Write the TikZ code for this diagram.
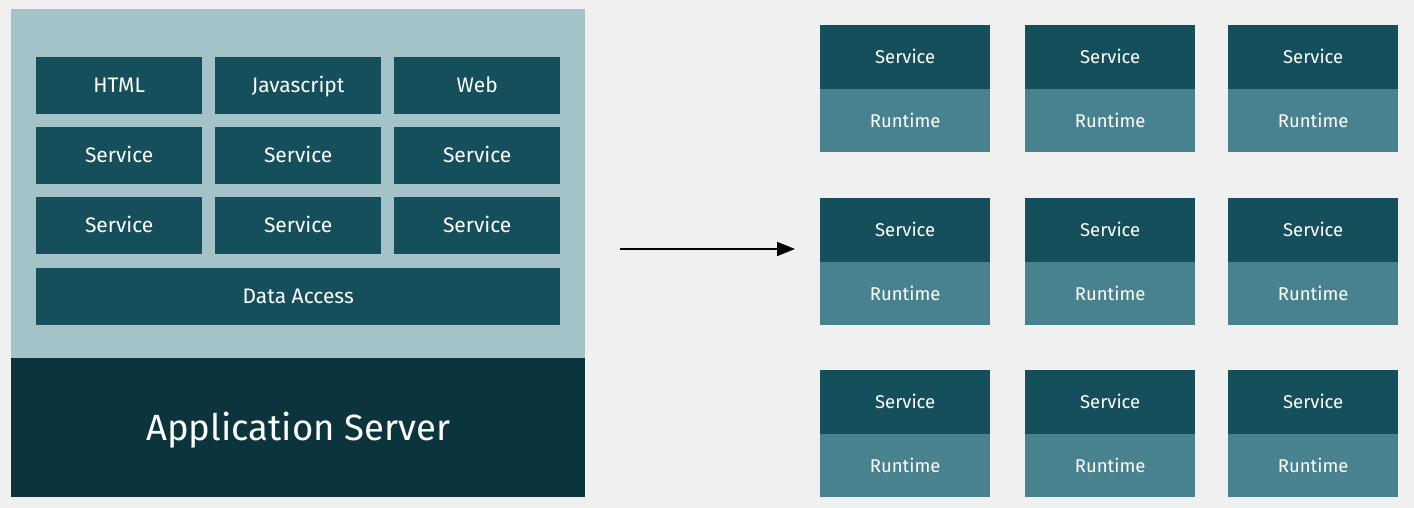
\documentclass[tikz,border=0pt]{standalone}
\usepackage{fontspec}
\setmainfont{Fira Sans}
\usetikzlibrary{arrows.meta}
\definecolor{pagebg}{HTML}{F0F0F0}
\definecolor{panel}{HTML}{A3C3C8}
\definecolor{tile}{HTML}{154F5C}
\definecolor{runtime}{HTML}{47828E}
\definecolor{server}{HTML}{0C343D}
\begin{document}
\begin{tikzpicture}[x=1pt,y=-1pt,
  box/.style={fill=tile,draw=none,inner sep=0pt,anchor=north west,text=white,
    font=\fontsize{21}{24}\selectfont,minimum height=57pt,
    text height=14.5pt,text depth=0pt},
  cell/.style={box,minimum width=166pt},
  svc/.style={box,minimum width=170pt,minimum height=64pt,
    font=\fontsize{18.5}{22}\selectfont,text height=12.8pt},
  rt/.style={svc,fill=runtime,minimum height=63pt},
  link/.style={line width=1.8pt,-{Triangle[length=18pt,width=14pt]}}]
% page
\fill[pagebg] (0,0) rectangle (1414,508);
\useasboundingbox (0,0) rectangle (1414,508);
% monolith
\node[fill=panel,inner sep=0pt,anchor=north west,minimum width=574pt,minimum height=349pt] (panel) at (11,9) {};
\node[fill=server,inner sep=0pt,anchor=north west,minimum width=574pt,minimum height=139pt,
  text=white,font=\fontsize{36.5}{40}\selectfont,text height=25.2pt,text depth=0pt] (server) at (11,358) {Application Server};
\node[cell] (html) at (36,57) {HTML};
\node[cell] (js) at (215,57) {Javascript};
\node[cell] (web) at (394,57) {Web};
\node[cell] (s11) at (36,127) {Service};
\node[cell] (s12) at (215,127) {Service};
\node[cell] (s13) at (394,127) {Service};
\node[cell] (s21) at (36,197) {Service};
\node[cell] (s22) at (215,197) {Service};
\node[cell] (s23) at (394,197) {Service};
\node[box,minimum width=524pt] (data) at (36,268) {Data Access};
% arrow
\coordinate (from) at (620,249);
\coordinate (to) at (795,249);
\draw[link] (from) -- (to);
% microservices
\foreach \r/\y in {1/25,2/198,3/370}{
  \foreach \c/\x in {1/820,2/1025,3/1228}{
    \node[svc] (svc\r\c) at (\x,\y) {Service};
    \node[rt] (rt\r\c) at (\x,\y+64) {Runtime};
  }
}
\end{tikzpicture}
\end{document}
